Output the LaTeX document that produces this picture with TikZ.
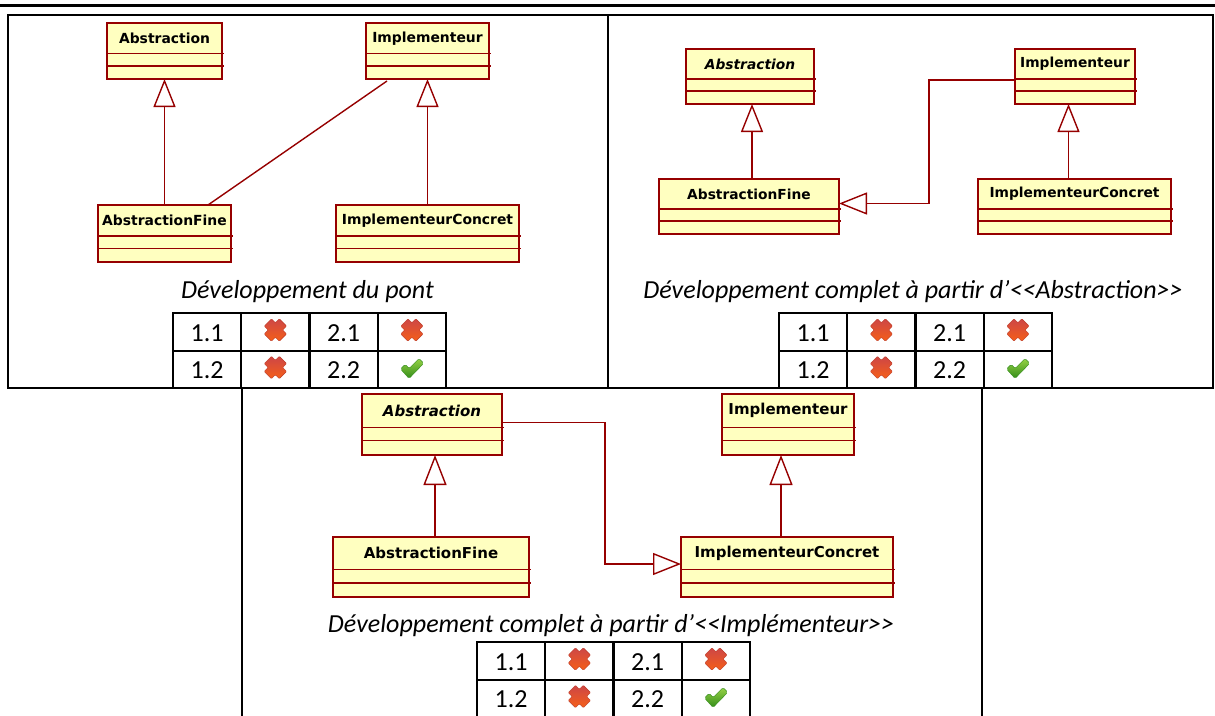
\documentclass[tikz,border=0pt]{standalone}
\usepackage{fontspec}
\newfontfamily\capfont{Carlito}
\newfontfamily\clsfont{DejaVu Sans}[ItalicFont={DejaVu Sans Oblique},BoldFont={DejaVu Sans Bold},BoldItalicFont={DejaVu Sans Bold Oblique}]
\usetikzlibrary{arrows.meta,calc}
\definecolor{umlred}{RGB}{150,0,0}
\definecolor{umlfill}{RGB}{255,255,192}
\definecolor{xtop}{RGB}{205,70,70}
\definecolor{xbot}{RGB}{245,95,25}
\definecolor{xedge}{RGB}{190,60,40}
\definecolor{ctop}{RGB}{150,210,70}
\definecolor{cbot}{RGB}{50,140,25}
\tikzset{
  clsbox/.style={draw=umlred, fill=umlfill, line width=1.5pt, inner sep=0pt, outer sep=0pt},
  umlline/.style={draw=umlred, line width=1.4pt},
  gen/.style={umlline, -{Triangle[open, length=28pt, width=22pt]}},
  genb/.style={umlline, -{Triangle[open, length=30pt, width=23pt]}},
  frame/.style={line width=2.6pt},
  tbl/.style={line width=2.4pt},
  tnum/.style={font=\capfont\fontsize{26}{30}\selectfont, inner sep=0pt},
  caption/.style={font=\capfont\itshape\fontsize{26}{30}\selectfont, inner sep=0pt},
  redx/.pic={\shade[scale=1.12, top color=xtop, bottom color=xbot, draw=xedge, line width=0.4pt, rounded corners=0.8pt]
    (-10,-3.5) -- (-3.5,-10) -- (0,-6.5) -- (3.5,-10) -- (10,-3.5) -- (6.5,0) -- (10,3.5) -- (3.5,10) -- (0,6.5) -- (-3.5,10) -- (-10,3.5) -- (-6.5,0) -- cycle;},
  greencheck/.pic={\shade[scale=0.95, top color=ctop, bottom color=cbot, draw=cbot, line width=0.4pt, rounded corners=1.5pt]
    (-12,0) -- (-7,-5) -- (-3,-0.5) -- (7.5,-11) -- (12.5,-6) -- (-3,10) -- cycle;}
}
% #1 name, #2 left, #3 top, #4 width, #5 height, #6 font size, #7 text
\newcommand\umlclass[7]{%
  \node[clsbox, anchor=north west, minimum width=#4pt, minimum height=#5pt] (#1) at (#2,#3) {};
  \draw[umlline] ($(#1.north west)!0.545!(#1.south west)$) -- ($($(#1.north east)!0.545!(#1.south east)$)+(1.5,0)$);
  \draw[umlline] ($(#1.north west)!0.765!(#1.south west)$) -- ($($(#1.north east)!0.765!(#1.south east)$)+(1.5,0)$);
  \node[font=\clsfont\bfseries\fontsize{#6}{#6}\selectfont, inner sep=0pt] (#1-name) at ($(#1.north)!0.2725!(#1.south)$) {#7};
}
% #1 prefix, #2 left, #3 top
\newcommand\restable[3]{%
  \foreach \i in {0,...,4} \draw[tbl] ({#2+68.25*\i},#3) -- ({#2+68.25*\i},#3+76);
  \foreach \yy in {0,38,75} \draw[tbl] (#2-1,#3+\yy) -- (#2+274,#3+\yy);
  \node[tnum] (#1-a) at (#2+34.1,#3+20) {1.1};
  \pic (#1-b) at (#2+102.4,#3+17) {redx};
  \node[tnum] (#1-c) at (#2+170.6,#3+20) {2.1};
  \pic (#1-d) at (#2+238.9,#3+17) {redx};
  \node[tnum] (#1-e) at (#2+34.1,#3+57.5) {1.2};
  \pic (#1-f) at (#2+102.4,#3+54.5) {redx};
  \node[tnum] (#1-g) at (#2+170.6,#3+57.5) {2.2};
  \pic (#1-h) at (#2+238.9,#3+56) {greencheck};
}
\begin{document}
\begin{tikzpicture}[x=1pt,y=-1pt]
\useasboundingbox (0,0) rectangle (1215,715);
\fill[white] (0,0) rectangle (1215,715);
% frames
\draw[line width=3pt] (0,5) -- (1215,5);
\draw[frame] (8,15) rectangle (1213,388);
\draw[frame] (608,15) -- (608,388);
\draw[frame] (242,388) -- (242,717);
\draw[frame] (982,388) -- (982,717);

% ---------- top left ----------
\umlclass{A1}{107}{23}{115}{56}{13.9}{Abstraction}
\umlclass{I1}{366}{23}{123}{56}{13.9}{Implementeur}
\umlclass{AF1}{98}{205}{133}{57}{13.9}{AbstractionFine}
\umlclass{IC1}{336}{205}{183}{57}{13.9}{ImplementeurConcret}
\draw[gen] (AF1.north -| A1.south) -- (A1.south);
\draw[gen] (IC1.north -| I1.south) -- (I1.south);
\draw[umlline] ($(I1.south west)+(21,2)$) -- ($(AF1.north west)+(110,0)$);
\node[caption] (cap1) at (307.5,292) {Développement du pont};
\restable{T1}{173}{313}

% ---------- top right ----------
\umlclass{A2}{686}{49}{128}{55}{13.8}{\itshape Abstraction}
\umlclass{I2}{1015}{49}{120}{55}{13.8}{Implementeur}
\umlclass{AF2}{659}{179}{180}{55}{13.8}{AbstractionFine}
\umlclass{IC2}{978}{179}{193}{55}{13.8}{ImplementeurConcret}
\coordinate (g2) at ($(A2.south)+(2,0)$);
\draw[gen] (AF2.north -| g2) -- (g2);
\coordinate (h2) at ($(I2.south)+(-6.5,0)$);
\draw[gen] (IC2.north -| h2) -- (h2);
\coordinate (k2) at ($(AF2.east)+(90,-3)$);
\draw[gen] ($(I2.west)+(0,3.5)$) -| (k2) -- ($(AF2.east)+(0,-3)$);
\node[caption] (cap2) at (913,292) {Développement complet à partir d’<\kern0pt<Abstraction>\kern0pt>};
\restable{T2}{779}{313}

% ---------- bottom ----------
\umlclass{A3}{362}{394}{140}{61}{15}{\itshape Abstraction}
\umlclass{I3}{722}{394}{132}{61}{15}{Implementeur}
\umlclass{AF3}{333}{537}{196}{60}{15}{AbstractionFine}
\umlclass{IC3}{681}{537}{212}{60}{15}{ImplementeurConcret}
\coordinate (g3) at ($(A3.south)+(3,0)$);
\draw[genb] (AF3.north -| g3) -- (g3);
\coordinate (h3) at ($(I3.south)+(-7,0)$);
\draw[genb] (IC3.north -| h3) -- (h3);
\coordinate (k3) at ($(IC3.west)+(-76,-3)$);
\draw[gen] ($(A3.east)+(0,-2)$) -| (k3) -- ($(IC3.west)+(0,-3)$);
\node[caption] (cap3) at (611,626) {Développement complet à partir d’<\kern0pt<Implémenteur>\kern0pt>};
\restable{T3}{477}{642}
\end{tikzpicture}
\end{document}
